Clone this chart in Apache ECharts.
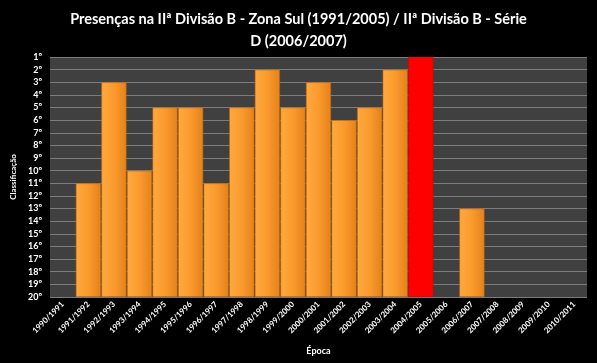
<!DOCTYPE html>
<html><head><meta charset="utf-8">
<script src="https://cdn.jsdelivr.net/npm/echarts@6/dist/echarts.min.js"></script>
<style>html,body{margin:0;padding:0;background:#000;}#c{width:597px;height:363px;}</style>
</head><body><div id="c"></div>
<script>
const categories = ["1990/1991","1991/1992","1992/1993","1993/1994","1994/1995","1995/1996","1996/1997","1997/1998","1998/1999","1999/2000","2000/2001","2001/2002","2002/2003","2003/2004","2004/2005","2005/2006","2006/2007","2007/2008","2008/2009","2009/2010","2010/2011"];
// final position (classificação); null = not present
const positions = [null,11,3,10,5,5,11,5,2,5,3,6,5,2,1,null,13,null,null,null,null];
const highlight = "2004/2005";
const lastPlace = 20;
const titleLines = ['Presenças na IIª Divisão B - Zona Sul (1991/2005) / IIª Divisão B - Série','D (2006/2007)'];

const orange = {type:'linear',x:0,y:0,x2:1,y2:0,colorStops:[{offset:0,color:'#ffa93f'},{offset:0.5,color:'#fb9a2c'},{offset:1,color:'#e4821c'}]};
const red = '#ff0000';

const data = positions.map((p,i)=> p==null ? null : {
  value: lastPlace - p,
  itemStyle: categories[i]===highlight ? {color:red,borderColor:'#d00000',borderWidth:0.5} : {color:orange,borderColor:'#b8660f',borderWidth:0.6}
});

const chart = echarts.init(document.getElementById('c'));
chart.setOption({
  backgroundColor:'#000',
  animation:false,
  graphic:titleLines.map((t,i)=>({
    type:'text', x:298.5, y:19+i*22,
    style:{text:t,fill:'#fff',font:'bold 14.5px Lato',textAlign:'center',textVerticalAlign:'middle'}
  })),
  grid:{left:50,right:10,top:57,bottom:66,show:true,backgroundColor:'#404040',borderWidth:0},
  xAxis:{
    type:'category', data:categories,
    name:'Época', nameLocation:'middle', nameGap:50,
    nameTextStyle:{color:'#fff',fontFamily:'Lato',fontWeight:'bold',fontSize:9},
    axisLine:{show:false}, axisTick:{show:false},
    axisLabel:{color:'#fff',fontFamily:'Lato',fontWeight:'bold',fontSize:8,rotate:45,interval:0,margin:6}
  },
  yAxis:{
    type:'value', min:0, max:lastPlace-1, interval:1,
    name:'Classificação', nameLocation:'middle', nameGap:33, nameRotate:90,
    nameTextStyle:{color:'#fff',fontFamily:'Lato',fontWeight:'bold',fontSize:8},
    axisLine:{show:false}, axisTick:{show:false},
    splitLine:{lineStyle:{color:'#7c7c7c',width:1.2}},
    axisLabel:{color:'#fff',fontFamily:'Lato',fontWeight:'bold',fontSize:9,margin:8,
      formatter:v=>(lastPlace - v)+'º'}
  },
  series:[{type:'bar',data:data,barCategoryGap:'2%'}]
});
</script></body></html>
